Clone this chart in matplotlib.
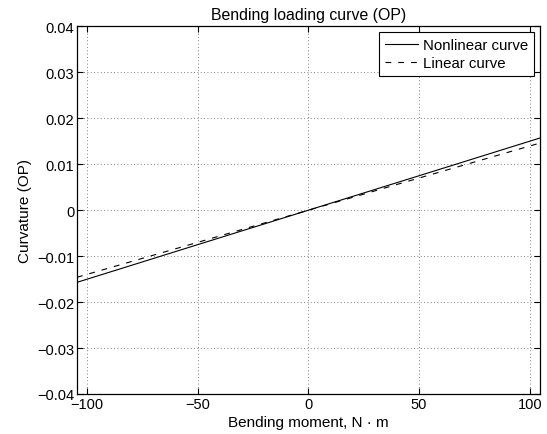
import matplotlib
matplotlib.use('Agg')
import matplotlib.pyplot as plt

plt.rcParams['font.family'] = ['Liberation Sans', 'DejaVu Sans']
plt.rcParams['font.size'] = 10.5

# bending moment (N m) and curvature values
moment = [-104.5, -50, 0, 50, 104.5]
nonlinear = [-0.0157, -0.0075, 0.0, 0.0075, 0.0157]
linear = [-0.0146, -0.0070, 0.0, 0.0070, 0.0146]

xticks = [-100, -50, 0, 50, 100]
yticks = [-0.04, -0.03, -0.02, -0.01, 0, 0.01, 0.02, 0.03, 0.04]
yticklabels = ['\u22120.04', '\u22120.03', '\u22120.02', '\u22120.01', '0',
               '0.01', '0.02', '0.03', '0.04']

fig = plt.figure(figsize=(5.47, 4.35), dpi=100)
ax = fig.add_axes([0.1408, 0.092, 0.846, 0.845])

ax.plot(moment, nonlinear, 'k-', lw=0.8, label='Nonlinear curve')
ax.plot(moment, linear, 'k--', lw=0.8, dashes=(5.2, 6.3), label='Linear curve')

ax.set_xlim(-104.5, 104.5)
ax.set_ylim(-0.04, 0.04)
ax.set_xticks(xticks)
ax.set_yticks(yticks)
ax.set_yticklabels(yticklabels)
ax.grid(True, linestyle=(0, (1, 3)), color='0.35', lw=0.6)
ax.tick_params(direction='in', top=True, right=True, length=4, width=0.8, pad=2)
for s in ax.spines.values():
    s.set_linewidth(0.9)

ax.set_title('Bending loading curve (OP)', fontsize=11.4, pad=5)
ax.set_xlabel('Bending moment, N \u00b7 m', fontsize=11, labelpad=3)
ax.set_ylabel('Curvature (OP)', fontsize=11, labelpad=4)

leg = ax.legend(loc='upper right', fancybox=False, edgecolor='k', framealpha=1,
                fontsize=10.8, handlelength=2.2, borderaxespad=0.4, borderpad=0.4,
                labelspacing=0.25, handletextpad=0.3)
leg.get_frame().set_linewidth(0.8)

fig.savefig('out.png', dpi=100)
